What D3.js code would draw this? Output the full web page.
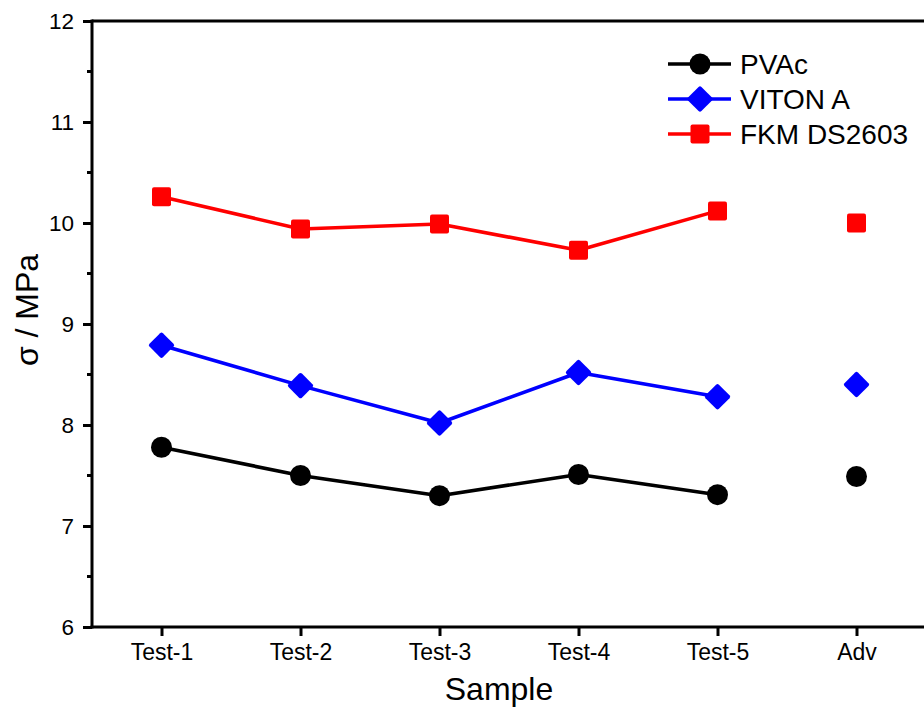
<!DOCTYPE html>
<html>
<head>
<meta charset="utf-8">
<script src="https://cdn.jsdelivr.net/npm/d3@7"></script>
<style>
  body { margin: 0; background: #fff; }
  svg { display: block; font-family: "Liberation Sans", Arial, sans-serif; }
</style>
</head>
<body>
<svg id="chart" width="924" height="708"></svg>
<script>
// samples along x (Adv = average, shown without a connecting line)
const samples = ["Test-1", "Test-2", "Test-3", "Test-4", "Test-5", "Adv"];
const yTicks = [6, 7, 8, 9, 10, 11, 12];

const pvac = [7.78, 7.50, 7.30, 7.51, 7.31, 7.49];
const viton = [8.79, 8.39, 8.02, 8.52, 8.28, 8.40];
const fkm = [10.26, 9.94, 9.99, 9.73, 10.12, 10.00];

const seriesNames = ["PVAc", "VITON A", "FKM DS2603"];
const seriesColors = ["#000000", "#0000ff", "#ff0000"];
const seriesShapes = ["circle", "diamond", "square"];

(function () {
  const svg = d3.select("#chart");
  const plotLeft = 92, plotRight = 926, plotTop = 21, plotBottom = 627;

  const x = d3.scalePoint().domain(samples).range([plotLeft, plotRight]).padding(0.5);
  const y = d3.scaleLinear().domain([6, 12]).range([plotBottom, plotTop]);

  // frame: top line (right edge falls outside the picture)
  svg.append("line")
    .attr("x1", plotLeft).attr("x2", plotRight)
    .attr("y1", plotTop).attr("y2", plotTop)
    .attr("stroke", "#000").attr("stroke-width", 3);

  // y axis
  const yAxis = svg.append("g")
    .attr("transform", `translate(${plotLeft},0)`)
    .call(d3.axisLeft(y).tickValues(yTicks).tickSize(9).tickPadding(9).tickFormat(d3.format("d")));
  yAxis.select(".domain").attr("stroke-width", 3).attr("d", `M0,${plotTop - 1.5}V${plotBottom + 1.5}`);
  yAxis.selectAll(".tick line").attr("stroke-width", 3);
  yAxis.selectAll(".tick text").attr("font-size", 22.5).attr("font-family", "Liberation Sans, Arial, sans-serif").attr("fill", "#000");

  // minor ticks
  svg.append("g")
    .selectAll("line")
    .data(d3.range(6.5, 12, 1))
    .join("line")
    .attr("x1", plotLeft - 5).attr("x2", plotLeft)
    .attr("y1", (d) => y(d)).attr("y2", (d) => y(d))
    .attr("stroke", "#000").attr("stroke-width", 3);

  // x axis
  const xAxis = svg.append("g")
    .attr("transform", `translate(0,${plotBottom})`)
    .call(d3.axisBottom(x).tickSize(9).tickPadding(8));
  xAxis.select(".domain").attr("stroke-width", 3).attr("d", `M${plotLeft - 1.5},0H${plotRight}`);
  xAxis.selectAll(".tick line").attr("stroke-width", 3);
  xAxis.selectAll(".tick text").attr("font-size", 23).attr("font-family", "Liberation Sans, Arial, sans-serif").attr("fill", "#000");

  // axis titles
  svg.append("text")
    .attr("x", 499).attr("y", 700)
    .attr("text-anchor", "middle")
    .attr("font-size", 32)
    .text("Sample");

  svg.append("text")
    .attr("transform", "translate(38,310) rotate(-90)")
    .attr("text-anchor", "middle")
    .attr("font-size", 32)
    .text("σ / MPa");

  function drawMarker(g, shape, color) {
    if (shape === "circle") {
      g.append("circle").attr("r", 10.5).attr("fill", color);
    } else if (shape === "square") {
      g.append("rect")
        .attr("x", -9.5).attr("y", -9.5)
        .attr("width", 19).attr("height", 19)
        .attr("rx", 2).attr("fill", color);
    } else {
      g.append("rect")
        .attr("x", -9.5).attr("y", -9.5)
        .attr("width", 19).attr("height", 19)
        .attr("rx", 2).attr("fill", color)
        .attr("transform", "rotate(45)");
    }
  }

  const allSeries = [pvac, viton, fkm];
  const line = d3.line()
    .x((d, i) => x(samples[i]))
    .y((d) => y(d));

  allSeries.forEach((vals, si) => {
    const color = seriesColors[si];
    // connect only the five tests
    svg.append("path")
      .datum(vals.slice(0, 5))
      .attr("d", line)
      .attr("fill", "none")
      .attr("stroke", color)
      .attr("stroke-width", 3.6)
      .attr("stroke-linejoin", "round");

    vals.forEach((v, i) => {
      const g = svg.append("g").attr("transform", `translate(${x(samples[i])},${y(v)})`);
      drawMarker(g, seriesShapes[si], color);
    });
  });

  // legend
  const legend = svg.append("g");
  seriesNames.forEach((name, i) => {
    const ly = 64 + i * 35;
    legend.append("line")
      .attr("x1", 668).attr("x2", 731)
      .attr("y1", ly).attr("y2", ly)
      .attr("stroke", seriesColors[i]).attr("stroke-width", 3.6);
    const g = legend.append("g").attr("transform", `translate(700,${ly})`);
    drawMarker(g, seriesShapes[i], seriesColors[i]);
    legend.append("text")
      .attr("x", 740).attr("y", ly + 9.5)
      .attr("font-size", 28)
      .text(name);
  });
})();
</script>
</body>
</html>
